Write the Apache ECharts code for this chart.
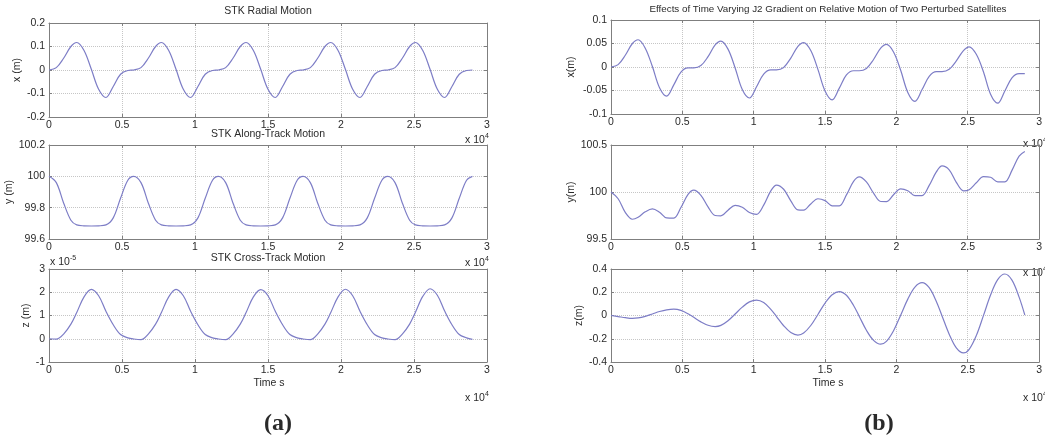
<!DOCTYPE html>
<html>
<head>
<meta charset="utf-8">
<script src="https://cdn.jsdelivr.net/npm/echarts@6/dist/echarts.min.js"></script>
<style>
  html, body { margin: 0; padding: 0; background: #ffffff; }
  #chart { width: 1045px; height: 441px; }
</style>
</head>
<body>
<div id="chart"></div>
<script>
// Sample times, in units of 10^4 s
const timeE4 = [
  0, 0.05, 0.10, 0.15, 0.19, 0.24, 0.29, 0.34, 0.39, 0.44, 0.49, 0.54,
  0.58, 0.63, 0.68, 0.73, 0.77, 0.82, 0.87, 0.92, 0.97, 1.02, 1.07, 1.12,
  1.16, 1.21, 1.26, 1.31, 1.35, 1.40, 1.45, 1.50, 1.55, 1.60, 1.65, 1.70,
  1.74, 1.79, 1.84, 1.89, 1.93, 1.98, 2.03, 2.08, 2.13, 2.18, 2.23, 2.28,
  2.32, 2.37, 2.42, 2.47, 2.51, 2.56, 2.61, 2.66, 2.71, 2.76, 2.81, 2.86,
  2.90
];

// (a) STK propagation
const stkRadial = [
  0, 0.010, 0.050, 0.100, 0.117, 0.083, 0.003, -0.082, -0.117, -0.070, -0.018, -0.002,
  0, 0.010, 0.050, 0.100, 0.117, 0.083, 0.003, -0.082, -0.117, -0.070, -0.018, -0.002,
  0, 0.010, 0.050, 0.100, 0.117, 0.083, 0.003, -0.082, -0.117, -0.070, -0.018, -0.002,
  0, 0.010, 0.050, 0.100, 0.117, 0.083, 0.003, -0.082, -0.117, -0.070, -0.018, -0.002,
  0, 0.010, 0.050, 0.100, 0.117, 0.083, 0.003, -0.082, -0.117, -0.070, -0.018, -0.002,
  0
];
const stkAlongTrack = [
  100, 99.96, 99.83, 99.72, 99.69, 99.684, 99.683, 99.684, 99.69, 99.735, 99.86, 99.975,
  100, 99.96, 99.83, 99.72, 99.69, 99.684, 99.683, 99.684, 99.69, 99.735, 99.86, 99.975,
  100, 99.96, 99.83, 99.72, 99.69, 99.684, 99.683, 99.684, 99.69, 99.735, 99.86, 99.975,
  100, 99.96, 99.83, 99.72, 99.69, 99.684, 99.683, 99.684, 99.69, 99.735, 99.86, 99.975,
  100, 99.96, 99.83, 99.72, 99.69, 99.684, 99.683, 99.684, 99.69, 99.735, 99.86, 99.975,
  100
];
// cross-track, in units of 10^-5 m
const stkCrossTrackE5 = [
  0, -0.02, 0.20, 0.63, 1.13, 1.80, 2.12, 1.85, 1.18, 0.60, 0.18, 0.04,
  -0.01, -0.04, 0.20, 0.63, 1.13, 1.80, 2.12, 1.85, 1.18, 0.60, 0.18, 0.04,
  -0.01, -0.04, 0.20, 0.63, 1.13, 1.80, 2.11, 1.85, 1.18, 0.60, 0.18, 0.04,
  -0.01, -0.04, 0.20, 0.63, 1.13, 1.80, 2.13, 1.85, 1.18, 0.60, 0.18, 0.04,
  -0.01, -0.04, 0.20, 0.63, 1.14, 1.82, 2.15, 1.87, 1.19, 0.60, 0.18, 0.04,
  -0.03
];

// (b) time varying J2 gradient
const j2Radial = [
  0, 0.005, 0.025, 0.050, 0.058, 0.040, 0.001, -0.044, -0.062, -0.038, -0.011, -0.002,
  -0.002, 0.003, 0.022, 0.047, 0.055, 0.038, -0.002, -0.048, -0.066, -0.042, -0.015, -0.006,
  -0.006, -0.001, 0.019, 0.044, 0.052, 0.035, -0.005, -0.051, -0.070, -0.045, -0.017, -0.008,
  -0.008, -0.003, 0.016, 0.040, 0.048, 0.032, -0.007, -0.054, -0.073, -0.048, -0.020, -0.010,
  -0.010, -0.005, 0.013, 0.035, 0.043, 0.027, -0.010, -0.058, -0.077, -0.051, -0.023, -0.014,
  -0.014
];
const j2AlongTrack = [
  100, 99.928, 99.783, 99.71, 99.731, 99.789, 99.82, 99.785, 99.724, 99.722, 99.835, 99.975,
  100.02, 99.965, 99.842, 99.75, 99.747, 99.807, 99.858, 99.838, 99.782, 99.763, 99.861, 100.012,
  100.074, 100.029, 99.906, 99.81, 99.807, 99.873, 99.928, 99.908, 99.853, 99.852, 99.969, 100.113,
  100.16, 100.107, 99.988, 99.899, 99.898, 99.971, 100.033, 100.014, 99.962, 99.961, 100.07, 100.214,
  100.277, 100.235, 100.103, 100.013, 100.025, 100.098, 100.163, 100.157, 100.108, 100.108, 100.23, 100.381,
  100.43
];
const j2CrossTrack = [
  0, -0.009, -0.019, -0.025, -0.021, -0.007, 0.013, 0.034, 0.049, 0.055, 0.044, 0.015,
  -0.016, -0.055, -0.084, -0.095, -0.085, -0.045, 0.013, 0.072, 0.117, 0.133, 0.112, 0.053,
  -0.009, -0.088, -0.146, -0.168, -0.151, -0.086, 0.009, 0.107, 0.179, 0.206, 0.174, 0.086,
  -0.008, -0.127, -0.214, -0.247, -0.223, -0.131, 0.003, 0.141, 0.244, 0.282, 0.239, 0.121,
  -0.004, -0.161, -0.279, -0.322, -0.291, -0.173, -0.001, 0.176, 0.308, 0.357, 0.304, 0.158,
  0.004
];

const FONT = '"Liberation Sans", Arial, sans-serif';
const AXIS_COLOR = '#7f7f7f';
const GRID_COLOR = '#c6c6c6';
const LINE_COLOR = '#7d7dc6';
const TEXT_COLOR = '#2a2a2a';

// one entry per sub-plot: frame, y range, y name
const panels = [
  { frame: { left: 49,  top: 23,  width: 438, height: 94 }, min: -0.2, max: 0.2,   step: 0.1,  name: 'x (m)', gap: 26, values: stkRadial },
  { frame: { left: 49,  top: 145, width: 438, height: 94 }, min: 99.6, max: 100.2, step: 0.2,  name: 'y (m)', gap: 33, values: stkAlongTrack },
  { frame: { left: 49,  top: 269, width: 438, height: 93 }, min: -1,   max: 3,     step: 1,    name: 'z (m)', gap: 17, values: stkCrossTrackE5 },
  { frame: { left: 611, top: 20,  width: 434, height: 94 }, min: -0.1, max: 0.1,   step: 0.05, name: 'x(m)',  gap: 34, values: j2Radial },
  { frame: { left: 611, top: 145, width: 434, height: 94 }, min: 99.5, max: 100.5, step: 0.5,  name: 'y(m)',  gap: 34, values: j2AlongTrack },
  { frame: { left: 611, top: 269, width: 434, height: 93 }, min: -0.4, max: 0.4,   step: 0.2,  name: 'z(m)',  gap: 26, values: j2CrossTrack }
];

const labelStyle = { fontSize: 10.5, color: TEXT_COLOR, fontFamily: FONT };
const tick = { show: true, inside: true, length: 3, lineStyle: { color: AXIS_COLOR } };
const line = { show: true, onZero: false, lineStyle: { color: AXIS_COLOR, width: 1 } };
const split = { show: true, lineStyle: { color: GRID_COLOR, type: 'dotted', width: 1 } };

const grid = [], xAxis = [], yAxis = [], series = [];
panels.forEach((p, i) => {
  grid.push(Object.assign({ containLabel: false }, p.frame));
  xAxis.push({
    gridIndex: i, type: 'value', min: 0, max: 3, interval: 0.5, position: 'bottom',
    axisLine: line, axisTick: tick, splitLine: split,
    axisLabel: Object.assign({ margin: 3, showMinLabel: true, showMaxLabel: true }, labelStyle)
  });
  xAxis.push({
    gridIndex: i, type: 'value', min: 0, max: 3, interval: 0.5, position: 'top',
    axisLine: line, axisTick: tick, splitLine: { show: false }, axisLabel: { show: false }
  });
  yAxis.push({
    gridIndex: i, type: 'value', min: p.min, max: p.max, interval: p.step, position: 'left',
    name: p.name, nameLocation: 'middle', nameGap: p.gap, nameRotate: 90,
    nameTextStyle: { fontSize: 10.5, color: TEXT_COLOR, fontFamily: FONT },
    axisLine: line, axisTick: tick, splitLine: split,
    axisLabel: Object.assign({ margin: 4, showMinLabel: true, showMaxLabel: true }, labelStyle)
  });
  yAxis.push({
    gridIndex: i, type: 'value', min: p.min, max: p.max, interval: p.step, position: 'right',
    axisLine: line, axisTick: tick, splitLine: { show: false }, axisLabel: { show: false }
  });
  series.push({
    type: 'line', xAxisIndex: 2 * i, yAxisIndex: 2 * i,
    data: timeE4.map((t, k) => [t, p.values[k]]),
    showSymbol: false, smooth: 0.35, silent: true,
    lineStyle: { color: LINE_COLOR, width: 1.2 }
  });
});

function label(text, x, y, size, opts) {
  return Object.assign({
    type: 'text', x: x, y: y, silent: true,
    style: {
      text: text, fill: TEXT_COLOR,
      font: (opts && opts.weight ? opts.weight + ' ' : '') + size + 'px ' + (opts && opts.family ? opts.family : FONT),
      textAlign: (opts && opts.align) || 'center', textVerticalAlign: 'middle'
    }
  });
}

// "x 10^n" exponent marks under each time axis
function exponent(x, y, power) {
  return [
    label('x 10', x, y, 10.5, { align: 'left' }),
    label(power, x + 20, y - 4, 7, { align: 'left' })
  ];
}

const elements = [
  label('STK Radial Motion', 268, 11, 10.5),
  label('STK Along-Track Motion', 268, 134, 10.5),
  label('STK Cross-Track Motion', 268, 258, 10.5),
  label('Effects of Time Varying J2 Gradient on Relative Motion of Two Perturbed Satellites', 828, 9, 9.8),
  label('Time s', 269, 383, 10.5),
  label('Time s', 828, 383, 10.5),
  label('(a)', 278, 424, 24, { weight: 'bold', family: '"Liberation Serif", "Times New Roman", serif' }),
  label('(b)', 879, 424, 24, { weight: 'bold', family: '"Liberation Serif", "Times New Roman", serif' })
]
  .concat(exponent(465, 140, '4'))
  .concat(exponent(465, 263, '4'))
  .concat(exponent(465, 398, '4'))
  .concat(exponent(1023, 144, '4'))
  .concat(exponent(1023, 273, '4'))
  .concat(exponent(1023, 398, '4'))
  .concat(exponent(50, 262, '-5'));

const chart = echarts.init(document.getElementById('chart'), null, { renderer: 'canvas' });
chart.setOption({
  animation: false,
  backgroundColor: '#ffffff',
  grid: grid,
  xAxis: xAxis,
  yAxis: yAxis,
  series: series,
  graphic: { elements: elements }
});
</script>
</body>
</html>
